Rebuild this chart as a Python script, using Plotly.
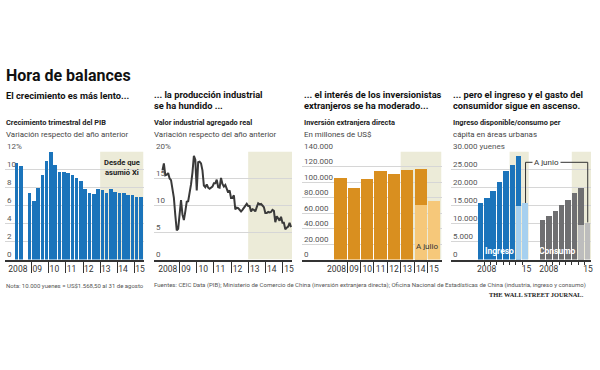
import plotly.graph_objects as go

W, H = 600, 370
FONT = "Roboto, Liberation Sans, sans-serif"
SERIF = "Liberation Serif, DejaVu Serif, serif"

# ---------------- data ----------------
# Panel 1: quarterly GDP growth (% y/y), 2008Q1 .. 2015Q2
gdp_years = [2008, 2009, 2010, 2011, 2012, 2013, 2014, 2015]
gdp_values = [10.8, 10.5, None, 7.5,
              6.6, 8.0, 9.5, 11.0,
              12.0, 10.6, 9.8, 9.8,
              9.7, 9.4, 9.1, 8.8,
              7.9, 7.5, 7.3, 7.9,
              7.8, 7.5, 7.9, 7.6,
              7.4, 7.4, 7.2, 7.2,
              7.0, 7.0]
gdp_yticks = [0, 2, 4, 6, 8, 10, 12]
gdp_yticktext = ["0", "2", "4", "6", "8", "10", "12%"]

# Panel 2: monthly industrial value added (% y/y), Jan 2008 .. Jul 2015
ind_values = [16.5, 17.8, 15.6, 15.7, 16.0, 15.0, 14.7, 12.8, 11.4, 8.2, 5.4, 5.7,
              8.0, 11.0, 8.3, 7.3, 8.9, 10.7, 10.8, 12.3, 13.9, 16.1, 19.2, 18.5,
              12.8, 18.0, 18.1, 17.8, 16.5, 13.7, 13.4, 13.9, 13.3, 13.1, 13.3, 13.5,
              14.1, 14.1, 14.8, 13.4, 13.3, 15.1, 14.0, 13.5, 13.8, 13.2, 12.4, 12.8,
              11.4, 11.4, 11.9, 9.3, 9.6, 9.5, 9.2, 8.9, 9.2, 9.6, 10.1, 10.3,
              9.9, 9.9, 8.9, 9.3, 9.2, 8.9, 9.7, 10.4, 10.2, 10.3, 10.0, 9.7,
              8.6, 8.6, 8.8, 8.7, 8.8, 9.2, 9.0, 6.9, 8.0, 7.7, 7.2, 7.9,
              6.8, 6.8, 5.6, 5.9, 6.1, 6.8, 6.0]
ind_yticks = [0, 5, 10, 15, 20]
ind_yticktext = ["0", "5", "10", "15", "20%"]

# Panel 3: FDI, millions of US$
fdi_years = [2008, 2009, 2010, 2011, 2012, 2013, 2014, 2015]
fdi_full = [106000, 93500, 105000, 115500, 111000, 116500, 118500, None]
fdi_july = [None, None, None, None, None, None, 71000, 76500]
fdi_yticks = [0, 20000, 40000, 60000, 80000, 100000, 120000, 140000]
fdi_yticktext = ["0", "20.000", "40.000", "60.000", "80.000", "100.000", "120.000", "140.000"]
fdi_xlabels = ["2008", "09", "10", "11", "12", "13", "14", "15"]

# Panel 4: urban per-capita income / consumption, yuan
cons_years = [2008, 2009, 2010, 2011, 2012, 2013, 2014, 2015]
ingreso_full = [15800, 17200, 19100, 21800, 24600, 26500, 28800, None]
ingreso_june = [None, None, None, None, None, None, 14900, 15700]
consumo_full = [11200, 12300, 13500, 15200, 16700, 18500, 20100, None]
consumo_june = [None, None, None, None, None, None, 9600, 10300]
cons_yticks = [0, 5000, 10000, 15000, 20000, 25000, 30000]
cons_yticktext = ["0", "5.000", "10.000", "15.000", "20.000", "25.000", "30.000 yuenes"]

# ---------------- colours ----------------
BLUE = "#1b74bb"
LBLUE = "#a6d0ef"
ORANGE = "#d98f1f"
LORANGE = "#f6c87a"
GRAY = "#6f6f71"
LGRAY = "#bdbdbd"
BEIGE = "#ecebd8"
GRID = "#d6d6d6"
DARK = "#333333"
LINE = "#3a3a3a"


def X(px):
    return px / W


def Y(py):
    return 1 - py / H


TOP, BOT = 151.5, 259.5
YDOM = [Y(BOT), Y(TOP)]

# panel geometry (pixel domain, origin px, px per unit)
P1 = dict(l=5, r=144, o=14.5, s=17.2, t0=2008)
P2 = dict(l=155, r=293, o=163, s=17.2, t0=2008)
P3 = dict(l=303, r=443, o=341.7, s=13.4, t0=2008)
P4 = dict(l=453, r=593, o=482.5, s=6.4, t0=0)


def xrange(p):
    return [p["t0"] + (p["l"] - p["o"]) / p["s"], p["t0"] + (p["r"] - p["o"]) / p["s"]]


fig = go.Figure()

# Panel 1 bars
q_x = [gdp_years[0] + (i + 0.5) / 4 for i in range(len(gdp_values))]
fig.add_trace(go.Bar(x=q_x, y=gdp_values, width=0.21, marker=dict(color=BLUE, line=dict(width=0)),
                     xaxis="x", yaxis="y", showlegend=False))

# Panel 2 line
m_x = [2008 + i / 12 for i in range(len(ind_values))]
fig.add_trace(go.Scatter(x=m_x, y=ind_values, mode="lines", line=dict(color=LINE, width=2),
                         xaxis="x2", yaxis="y2", showlegend=False))

# Panel 3 bars
fig.add_trace(go.Bar(x=fdi_years, y=fdi_full, width=0.92, marker=dict(color=ORANGE, line=dict(width=0)),
                     xaxis="x3", yaxis="y3", showlegend=False))
fig.add_trace(go.Bar(x=fdi_years, y=fdi_july, width=0.92, marker=dict(color=LORANGE, line=dict(width=0)),
                     xaxis="x3", yaxis="y3", showlegend=False))

# Panel 4 bars
GAP = 9.75
ix_ing = list(range(len(cons_years)))
ix_con = [GAP + i for i in range(len(cons_years))]
fig.add_trace(go.Bar(x=ix_ing, y=ingreso_full, width=0.86, marker=dict(color=BLUE, line=dict(width=0)),
                     xaxis="x4", yaxis="y4", showlegend=False))
fig.add_trace(go.Bar(x=ix_ing, y=ingreso_june, width=0.86, marker=dict(color=LBLUE, line=dict(width=0)),
                     xaxis="x4", yaxis="y4", showlegend=False))
fig.add_trace(go.Bar(x=ix_con, y=consumo_full, width=0.86, marker=dict(color=GRAY, line=dict(width=0)),
                     xaxis="x4", yaxis="y4", showlegend=False))
fig.add_trace(go.Bar(x=ix_con, y=consumo_june, width=0.86, marker=dict(color=LGRAY, line=dict(width=0)),
                     xaxis="x4", yaxis="y4", showlegend=False))

tickfont = dict(family=FONT, size=8.5, color=DARK)


def xaxis(p, tickvals, ticktext, minor_vals, minor_len, anchor):
    return dict(domain=[X(p["l"]), X(p["r"])], range=xrange(p), anchor=anchor, showgrid=False,
                zeroline=False, showline=True, linecolor=DARK, linewidth=1.5, ticks="",
                tickvals=tickvals, ticktext=ticktext, tickfont=tickfont, ticklabelstandoff=1,
                fixedrange=True,
                minor=dict(tickmode="array", tickvals=minor_vals, ticks="outside", ticklen=minor_len,
                           tickcolor=DARK, tickwidth=1, showgrid=False))


def yaxis(anchor, rng, vals):
    return dict(domain=YDOM, range=rng, anchor=anchor, showgrid=True, gridcolor=GRID, gridwidth=0.8,
                tickvals=vals, showticklabels=False, ticks="", zeroline=False, showline=False,
                fixedrange=True)


yrs = gdp_years
lab_short = ["2008"] + [str(y)[2:] for y in yrs[1:]]

fig.update_layout(
    width=W, height=H, margin=dict(l=0, r=0, t=0, b=0),
    paper_bgcolor="white", plot_bgcolor="rgba(0,0,0,0)",
    barmode="overlay", bargap=0, showlegend=False,
    font=dict(family=FONT, color=DARK),
    xaxis=xaxis(P1, [2008.2] + [y + 0.33 for y in yrs[1:]], lab_short, yrs[1:], 12, "y"),
    yaxis=yaxis("x", [0, 12], gdp_yticks),
    xaxis2=xaxis(P2, [2008.31] + [y + 0.38 for y in yrs[1:]], lab_short, yrs[1:], 12, "y2"),
    yaxis2=yaxis("x2", [0, 20], ind_yticks),
    xaxis3=xaxis(P3, [2007.7] + fdi_years[1:], fdi_xlabels, [y + 0.5 for y in fdi_years[:-1]], 12, "y3"),
    yaxis3=yaxis("x3", [0, 140000], fdi_yticks),
    xaxis4=xaxis(P4, [0.9, 7.15, GAP + 0.9, GAP + 7.05], ["2008", "15", "2008", "15"],
                 [i + 0.5 for i in ix_ing[:-1]] + [c + 0.5 for c in ix_con[:-1]], 4, "y4"),
    yaxis4=yaxis("x4", [0, 30000], cons_yticks),
)

# shaded periods
shapes = [
    dict(type="rect", xref="x", yref="y", x0=2013, x1=xrange(P1)[1], y0=0, y1=12,
         fillcolor=BEIGE, line=dict(width=0), layer="below"),
    dict(type="rect", xref="x2", yref="y2", x0=2013, x1=xrange(P2)[1], y0=0, y1=20,
         fillcolor=BEIGE, line=dict(width=0), layer="below"),
    dict(type="rect", xref="x3", yref="y3", x0=2012.5, x1=xrange(P3)[1], y0=0, y1=140000,
         fillcolor=BEIGE, line=dict(width=0), layer="below"),
    dict(type="rect", xref="x4", yref="y4", x0=4.5, x1=7.5, y0=0, y1=30000,
         fillcolor=BEIGE, line=dict(width=0), layer="below"),
    dict(type="rect", xref="x4", yref="y4", x0=GAP + 4.5, x1=xrange(P4)[1], y0=0, y1=30000,
         fillcolor=BEIGE, line=dict(width=0), layer="below"),
]
# "A junio" bracket
BR = 27000
shapes += [
    dict(type="line", xref="x4", yref="y4", x0=ix_ing[-1], x1=ix_con[-1], y0=BR, y1=BR,
         line=dict(color=DARK, width=1)),
    dict(type="line", xref="x4", yref="y4", x0=ix_ing[-1], x1=ix_ing[-1], y0=BR, y1=ingreso_june[-1],
         line=dict(color=DARK, width=1)),
    dict(type="line", xref="x4", yref="y4", x0=ix_con[-1], x1=ix_con[-1], y0=BR, y1=consumo_june[-1],
         line=dict(color=DARK, width=1)),
]
fig.update_layout(shapes=shapes)

ann = []


def text(x, y, s, size, color=DARK, bold=False, family=FONT, xanchor="left", yanchor="middle", **kw):
    d = dict(xref="paper", yref="paper", x=X(x), y=Y(y), text=("<b>%s</b>" % s) if bold else s,
             showarrow=False, xanchor=xanchor, yanchor=yanchor,
             font=dict(family=family, size=size, color=color))
    d.update(kw)
    ann.append(d)


HEAD = 9.3
text(4, 75, "Hora de balances", 16, color="#111", bold=True)
text(4, 95, "El crecimiento es más lento...", HEAD, color="#111", bold=True)
text(153, 94, "... la producción industrial", HEAD, color="#111", bold=True)
text(153, 106, "se ha hundido ...", HEAD, color="#111", bold=True)
text(303, 94, "... el interés de los inversionistas", HEAD, color="#111", bold=True)
text(303, 106, "extranjeros se ha moderado...", HEAD, color="#111", bold=True)
text(453, 94, "... pero el ingreso y el gasto del", HEAD, color="#111", bold=True)
text(453, 106, "consumidor sigue en ascenso.", HEAD, color="#111", bold=True)

CT, CS = 7.4, 7.9
text(4, 123, "Crecimiento trimestral del PIB", CT, color="#222", bold=True)
text(4, 134, "Variación respecto del año anterior", CS, color="#444")
text(153, 123, "Valor industrial agregado real", CT, color="#222", bold=True)
text(153, 134, "Variación respecto del año anterior", CS, color="#444")
text(303, 123, "Inversión extranjera directa", CT, color="#222", bold=True)
text(303, 134, "En millones de US$", CS, color="#444")
text(453, 123, "Ingreso disponible/consumo per", CT, color="#222", bold=True)
text(453, 134, "cápita en áreas urbanas", CS, color="#444")

# y-axis labels sitting on top of gridlines
for p, yref, vals, txt in [(P1, "y", gdp_yticks, gdp_yticktext), (P2, "y2", ind_yticks, ind_yticktext),
                           (P3, "y3", fdi_yticks, fdi_yticktext), (P4, "y4", cons_yticks, cons_yticktext)]:
    for v, t in zip(vals, txt):
        ann.append(dict(xref="paper", yref=yref, x=X(p["l"]), y=v, text=t, showarrow=False,
                        xanchor="left", yanchor="bottom", yshift=-1.5,
                        font=dict(family=FONT, size=8, color="#555")))

# in-chart labels
ann.append(dict(xref="x", yref="y", x=2014.25, y=10.2, text="<b>Desde que<br>asumió Xi</b>", showarrow=False,
                font=dict(family=FONT, size=7.6, color="#222"), align="center"))
ann.append(dict(xref="x3", yref="y3", x=2014.45, y=16500, text="A julio", showarrow=False,
                font=dict(family=FONT, size=8, color="#333")))
ann.append(dict(xref="x4", yref="y4", x=2.95, y=2300, text="<b>Ingreso</b>", showarrow=False,
                font=dict(family=FONT, size=8.5, color="white")))
ann.append(dict(xref="x4", yref="y4", x=GAP + 2.2, y=2300, text="<b>Consumo</b>", showarrow=False,
                font=dict(family=FONT, size=8.5, color="white")))
ann.append(dict(xref="x4", yref="y4", x=10.3, y=BR, text="A junio", showarrow=False, bgcolor="white",
                borderpad=1, font=dict(family=FONT, size=8, color="#333")))

# footer
text(4, 285, "Nota: 10.000 yuenes = US$1.568,50 al 31 de agosto", 6, color="#555")
text(153, 285, "Fuentes: CEIC Data (PIB); Ministerio de Comercio de China (inversión extranjera directa); "
               "Oficina Nacional de Estadísticas de China (industria, ingreso y consumo)", 6.05, color="#555")
text(588, 294, "THE WALL STREET JOURNAL.", 6.4, color="#222", bold=True, family=SERIF, xanchor="right")

fig.update_layout(annotations=ann)
fig.write_html("out.html", config={"displayModeBar": False},
               post_script="document.body.style.margin='0';document.body.style.overflow='hidden';")
